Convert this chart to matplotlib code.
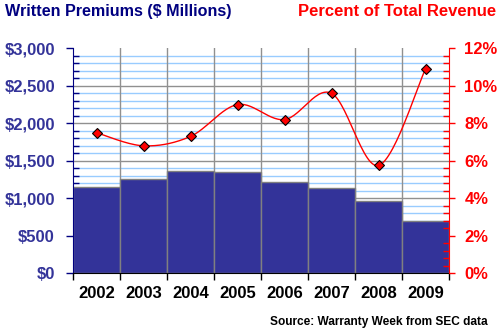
import numpy as np
import matplotlib
matplotlib.use("Agg")
import matplotlib.pyplot as plt
from matplotlib.ticker import MultipleLocator, FuncFormatter

years = ["2002", "2003", "2004", "2005", "2006", "2007", "2008", "2009"]
premiums = [1155, 1261, 1368, 1347, 1213, 1133, 964, 693]
pct_revenue = [7.5, 6.8, 7.3, 9.0, 8.2, 9.6, 5.75, 10.9]

BAR_BLUE = "#333399"
NAVY = "#000080"
RED = "#ff0000"

plt.rcParams["font.family"] = ["Liberation Sans", "DejaVu Sans"]
plt.rcParams["font.weight"] = "bold"


# smooth curve through the points (Catmull-Rom as bezier segments)
def smooth_line(xs, ys, steps=30):
    xs = np.asarray(xs, float)
    ys = np.asarray(ys, float)
    px = np.concatenate([[xs[0]], xs, [xs[-1]]])
    py = np.concatenate([[ys[0]], ys, [ys[-1]]])
    out_x, out_y = [], []
    for i in range(1, len(px) - 2):
        p0 = np.array([px[i], py[i]])
        p3 = np.array([px[i + 1], py[i + 1]])
        c1 = p0 + (np.array([px[i + 1], py[i + 1]]) - np.array([px[i - 1], py[i - 1]])) / 6
        c2 = p3 - (np.array([px[i + 2], py[i + 2]]) - np.array([px[i], py[i]])) / 6
        t = np.linspace(0, 1, steps)[:, None]
        pts = ((1 - t) ** 3) * p0 + 3 * ((1 - t) ** 2) * t * c1 + 3 * (1 - t) * t ** 2 * c2 + t ** 3 * p3
        out_x.extend(pts[:, 0])
        out_y.extend(pts[:, 1])
    return out_x, out_y


fig = plt.figure(figsize=(5, 3.34), dpi=100)
ax = fig.add_axes([0.146, 0.1817, 0.752, 0.6737])
x = np.arange(len(years))

# grid: light blue every 100, gray every 500, gray between years
ax.set_ylim(0, 3000)
ax.set_xlim(0, len(years))
for v in range(100, 3000, 100):
    ax.axhline(v, color="#99ccff" if v % 500 else "#909090", lw=1, zorder=0)
for b in range(1, len(years)):
    ax.axvline(b, color="#909090", lw=1, zorder=0)

ax.bar(x + 0.5, premiums, width=1.0, color=BAR_BLUE, edgecolor="#808080", linewidth=1, zorder=2)

ax.yaxis.set_major_locator(MultipleLocator(500))
ax.yaxis.set_minor_locator(MultipleLocator(100))
ax.yaxis.set_major_formatter(FuncFormatter(lambda v, p: "${:,.0f}".format(v)))
ax.tick_params(axis="y", which="major", direction="out", length=5, width=1, colors=NAVY,
               labelcolor=BAR_BLUE, labelsize=12, pad=8)
ax.tick_params(axis="y", which="minor", direction="in", length=4, width=1, colors=NAVY)
ax.set_xticks(np.arange(len(years) + 1))
ax.set_xticklabels([])
ax.set_xticks(x + 0.5, minor=True)
ax.set_xticklabels(years, minor=True, fontsize=12, color="black")
ax.tick_params(axis="x", which="major", direction="out", length=5, width=1, colors="black")
ax.tick_params(axis="x", which="minor", length=0, pad=9)

for s in ["top", "right"]:
    ax.spines[s].set_visible(False)
ax.spines["left"].set_color(NAVY)
ax.spines["bottom"].set_color("black")

ax2 = ax.twinx()
ax2.set_ylim(0, 12)
sx, sy = smooth_line(x + 0.5, pct_revenue)
ax2.plot(sx, sy, color=RED, lw=1, zorder=3)
ax2.plot(x + 0.5, pct_revenue, linestyle="none", marker="D", markersize=5.5,
         markerfacecolor=RED, markeredgecolor="black", markeredgewidth=0.8, zorder=4)
ax2.yaxis.set_major_locator(MultipleLocator(2))
ax2.yaxis.set_minor_locator(MultipleLocator(0.4))
ax2.yaxis.set_major_formatter(FuncFormatter(lambda v, p: "{:.0f}%".format(v)))
ax2.tick_params(axis="y", which="major", direction="out", length=4, width=1, colors=RED,
                labelsize=12, pad=7)
ax2.tick_params(axis="y", which="minor", direction="in", length=4, width=1, colors=RED)
for s in ["top", "left", "bottom"]:
    ax2.spines[s].set_visible(False)
ax2.spines["right"].set_color(RED)

fig.text(0.01, 0.966, "Written Premiums ($ Millions)", color=NAVY, fontsize=11.6,
         fontweight="bold", va="center", ha="left")
fig.text(0.992, 0.966, "Percent of Total Revenue", color=RED, fontsize=12,
         fontweight="bold", va="center", ha="right")
fig.text(0.975, 0.036, "Source: Warranty Week from SEC data", color="black", fontsize=8.6,
         fontweight="bold", va="center", ha="right")

fig.savefig("out.png", dpi=100)
